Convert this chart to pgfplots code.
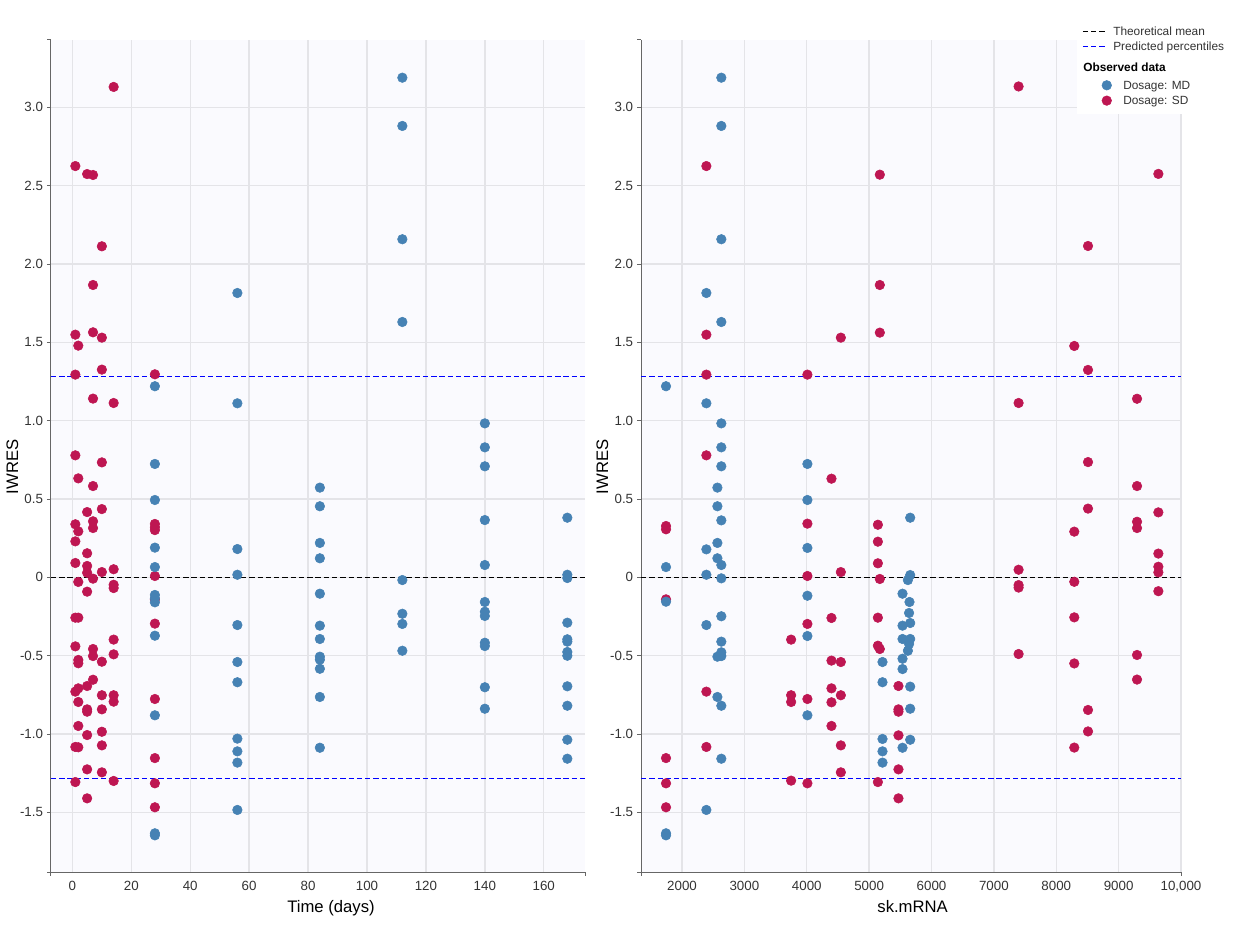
\documentclass[border=0pt]{standalone}
\usepackage{fontspec}
\setmainfont{Liberation Sans}
\usepackage{pgfplots}
\pgfplotsset{compat=1.18}
\definecolor{bgcol}{RGB}{250,250,254}
\definecolor{gridcol}{RGB}{228,228,232}
\definecolor{axiscol}{RGB}{102,102,102}
\definecolor{ticktext}{RGB}{51,51,51}
\definecolor{mdblue}{RGB}{70,130,180}
\definecolor{sdred}{RGB}{190,22,82}
\pgfplotsset{
  common/.style={
    scale only axis, height=624pt,
    ymin=-1.880, ymax=3.4295,
    axis x line*=bottom, axis y line*=left,
    axis line style={draw=axiscol, line width=0.75pt, -},
    axis background/.style={fill=bgcol},
    grid=major, major grid style={draw=gridcol, line width=1pt},
    tick align=outside, major tick length=3pt,
    xtick style={draw=none},
    ytick style={draw=axiscol, line width=0.75pt},
    ytick={-1.5,-1,-0.5,0,0.5,1,1.5,2,2.5,3},
    yticklabels={-1.5,-1.0,-0.5,0,0.5,1.0,1.5,2.0,2.5,3.0},
    scaled x ticks=false, scaled y ticks=false,
    tick label style={font=\fontsize{10}{12}\selectfont, text=ticktext},
    yticklabel style={inner xsep=2.7pt},
    clip=false,
  },
  mdstyle/.style={only marks, mark=*, mark size=3.6pt, color=mdblue, mark options={draw=none, fill=mdblue}},
  sdstyle/.style={only marks, mark=*, mark size=3.6pt, color=sdred, mark options={draw=none, fill=sdred}},
  meanline/.style={black, line width=0.75pt, dash pattern=on 4pt off 2.2pt},
  pctline/.style={blue, line width=0.75pt, dash pattern=on 4pt off 2.2pt},
  lineimg/.style={legend image code/.code={\path (0pt,0pt) (22pt,0pt); \draw[##1] (0pt,3.2pt) -- (18.5pt,3.2pt);}},
  dotimg/.style={legend image code/.code={\path (0pt,0pt) (22pt,0pt); \draw[##1] plot coordinates {(18pt,3.2pt)};}},
  emptyimg/.style={legend image code/.code={}},
}
\begin{document}
\begin{tikzpicture}
\useasboundingbox (0,0) rectangle (937.5pt,710.25pt);
% ---------------- left panel ----------------
\begin{axis}[common,
  at={(38.175pt,56.25pt)}, anchor=south west, width=400.575pt,
  xmin=-7.3, xmax=174,
  xtick={0,20,40,60,80,100,120,140,160},
  xticklabels={0,20,40,60,80,100,120,140,160},
  xlabel={Time (days)}, ylabel={IWRES},
  every axis x label/.style={at={(axis description cs:0.5244,-0.04327)}, anchor=center, font=\fontsize{12.5}{15}\selectfont},
  every axis y label/.style={at={(axis description cs:-0.0723,0.4868)}, rotate=90, anchor=center, font=\fontsize{12.5}{15}\selectfont},
]
\addplot[sdstyle, forget plot] table {
x y
1 2.625
1 1.549
1 1.294
1 0.779
1 0.339
1 0.230
1 0.092
1 -0.257
1 -0.440
1 -0.729
1 -1.082
1 -1.306
2 1.479
2 0.632
2 0.294
2 -0.029
2 -0.257
2 -0.527
2 -0.548
2 -0.708
2 -0.795
2 -0.948
2 -1.084
5 2.574
5 0.417
5 0.154
5 0.073
5 0.030
5 -0.091
5 -0.693
5 -0.842
5 -0.857
5 -1.006
5 -1.225
5 -1.410
7 2.568
7 1.866
7 1.564
7 1.141
7 0.583
7 0.358
7 0.315
7 -0.008
7 -0.457
7 -0.502
7 -0.653
10 2.113
10 1.530
10 1.326
10 0.734
10 0.436
10 0.034
10 -0.538
10 -0.752
10 -0.842
10 -0.985
10 -1.072
10 -1.244
14 3.130
14 1.113
14 0.052
14 -0.047
14 -0.068
14 -0.397
14 -0.491
14 -0.752
14 -0.793
14 -1.299
28 1.296
28 0.341
28 0.320
28 0.302
28 0.009
28 -0.140
28 -0.295
28 -0.776
28 -1.153
28 -1.314
28 -1.467
};
\addplot[mdstyle, forget plot] table {
x y
28 1.220
28 0.724
28 0.494
28 0.190
28 0.066
28 -0.112
28 -0.134
28 -0.159
28 -0.372
28 -0.880
28 -1.633
28 -1.646
56 1.815
56 1.111
56 0.181
56 0.017
56 -0.304
56 -0.540
56 -0.669
56 -1.029
56 -1.110
56 -1.182
56 -1.484
84 0.573
84 0.454
84 0.220
84 0.122
84 -0.104
84 -0.308
84 -0.393
84 -0.506
84 -0.525
84 -0.583
84 -0.763
84 -1.087
112 3.189
112 2.881
112 2.158
112 1.630
112 -0.017
112 -0.232
112 -0.297
112 -0.468
140 0.983
140 0.830
140 0.709
140 0.366
140 0.079
140 -0.157
140 -0.219
140 -0.246
140 -0.417
140 -0.438
140 -0.701
140 -0.838
168 0.381
168 0.017
168 -0.004
168 -0.289
168 -0.395
168 -0.410
168 -0.476
168 -0.500
168 -0.695
168 -0.819
168 -1.036
168 -1.157
};
\addplot[meanline, forget plot] coordinates {(-7.3,0) (174,0)};
\addplot[pctline, forget plot] coordinates {(-7.3,1.2816) (174,1.2816)};
\addplot[pctline, forget plot] coordinates {(-7.3,-1.2816) (174,-1.2816)};
\draw[axiscol, line width=0.75pt] (rel axis cs:0,0) -- ([yshift=-3pt]rel axis cs:0,0);
\draw[axiscol, line width=0.75pt] (rel axis cs:1,0) -- ([yshift=-3pt]rel axis cs:1,0);
\draw[axiscol, line width=0.75pt] (rel axis cs:0,1) -- ([xshift=-3pt]rel axis cs:0,1);
\draw[axiscol, line width=0.75pt] (rel axis cs:0,0) -- ([xshift=-3pt]rel axis cs:0,0);
\end{axis}
% ---------------- right panel ----------------
\begin{axis}[common,
  at={(480.75pt,56.25pt)}, anchor=south west, width=405pt,
  xmin=1342, xmax=10000,
  xtick={2000,3000,4000,5000,6000,7000,8000,9000,10000},
  xticklabels={2000,3000,4000,5000,6000,7000,8000,9000,{10,000}},
  xlabel={sk.mRNA}, ylabel={IWRES},
  every axis x label/.style={at={(axis description cs:0.503,-0.0421)}, anchor=center, font=\fontsize{12.5}{15}\selectfont},
  every axis y label/.style={at={(axis description cs:-0.0715,0.4868)}, rotate=90, anchor=center, font=\fontsize{12.5}{15}\selectfont},
  legend style={at={(0.8074,1.0236)}, anchor=north west, draw=none, fill=white,
    inner xsep=3.75pt, inner ysep=3pt, row sep=0pt, column sep=0.5pt,
    font=\fontsize{8.9}{11}\selectfont, text=ticktext,
    cells={anchor=base west},
    nodes={inner sep=0pt, text depth=3.5pt}},
]
\addlegendimage{meanline, lineimg}
\addlegendentry{\rule{0pt}{8pt}Theoretical mean}
\addlegendimage{pctline, lineimg}
\addlegendentry{\rule{0pt}{8pt}Predicted percentiles}
\addlegendimage{emptyimg}
\addlegendentry{\hspace*{-22.5pt}\rule{0pt}{12pt}\textcolor{black}{\bfseries Observed data}}
\addlegendimage{mdstyle, dotimg}
\addlegendentry{\hspace*{7.5pt}\rule{0pt}{10.2pt}Dosage: MD}
\addlegendimage{sdstyle, dotimg}
\addlegendentry{\hspace*{7.5pt}\rule{0pt}{8pt}Dosage: SD}
\addplot[sdstyle, forget plot] table {
x y
1743 0.328
1743 0.307
1743 -0.140
1743 -1.153
1743 -1.314
1743 -1.467
2390 2.625
2390 1.549
2390 1.294
2390 0.779
2390 -0.729
2390 -1.082
3749 -0.397
3749 -0.752
3749 -0.795
3749 -1.297
4010 1.294
4010 0.343
4010 0.009
4010 -0.297
4010 -0.776
4010 -1.314
4396 0.630
4396 -0.259
4396 -0.531
4396 -0.708
4396 -0.797
4396 -0.948
4546 1.530
4546 0.034
4546 -0.540
4546 -0.752
4546 -1.072
4546 -1.244
5140 0.336
5140 0.228
5140 0.090
5140 -0.257
5140 -0.436
5140 -1.306
5171 2.570
5171 1.866
5171 1.562
5171 -0.010
5171 -0.457
5470 -0.693
5470 -0.842
5470 -0.857
5470 -1.008
5470 -1.225
5470 -1.410
7396 3.133
7396 1.113
7396 0.049
7396 -0.049
7396 -0.065
7396 -0.489
8289 1.477
8289 0.292
8289 -0.028
8289 -0.255
8289 -0.549
8289 -1.086
8509 2.115
8509 1.324
8509 0.736
8509 0.439
8509 -0.846
8509 -0.983
9295 1.140
9295 0.583
9295 0.355
9295 0.315
9295 -0.495
9295 -0.652
9637 2.575
9637 0.415
9637 0.152
9637 0.068
9637 0.032
9637 -0.088
};
\addplot[mdstyle, forget plot] table {
x y
1743 1.220
1743 0.066
1743 -0.155
1743 -1.633
1743 -1.646
2390 1.815
2390 1.111
2390 0.179
2390 0.017
2390 -0.304
2390 -1.484
2567 0.573
2567 0.454
2567 0.220
2567 0.122
2567 -0.506
2567 -0.763
2630 3.189
2630 2.881
2630 2.158
2630 1.630
2630 0.983
2630 0.830
2630 0.709
2630 0.364
2630 0.079
2630 -0.006
2630 -0.248
2630 -0.410
2630 -0.478
2630 -0.502
2630 -0.819
2630 -1.157
4010 0.724
4010 0.494
4010 0.188
4010 -0.117
4010 -0.374
4010 -0.880
5214 -0.540
5214 -0.669
5214 -1.031
5214 -1.110
5214 -1.182
5535 -0.104
5535 -0.308
5535 -0.393
5535 -0.519
5535 -0.585
5535 -1.087
5621 -0.017
5621 -0.468
5640 -0.227
5640 -0.425
5647 -0.157
5658 0.381
5658 0.015
5658 -0.291
5658 -0.393
5658 -0.697
5658 -0.838
5658 -1.036
};
\addplot[meanline, forget plot] coordinates {(1342,0) (10000,0)};
\addplot[pctline, forget plot] coordinates {(1342,1.2816) (10000,1.2816)};
\addplot[pctline, forget plot] coordinates {(1342,-1.2816) (10000,-1.2816)};
\draw[axiscol, line width=0.75pt] (rel axis cs:0,0) -- ([yshift=-3pt]rel axis cs:0,0);
\draw[axiscol, line width=0.75pt] (rel axis cs:1,0) -- ([yshift=-3pt]rel axis cs:1,0);
\draw[axiscol, line width=0.75pt] (rel axis cs:0,1) -- ([xshift=-3pt]rel axis cs:0,1);
\draw[axiscol, line width=0.75pt] (rel axis cs:0,0) -- ([xshift=-3pt]rel axis cs:0,0);
\end{axis}
\end{tikzpicture}
\end{document}
